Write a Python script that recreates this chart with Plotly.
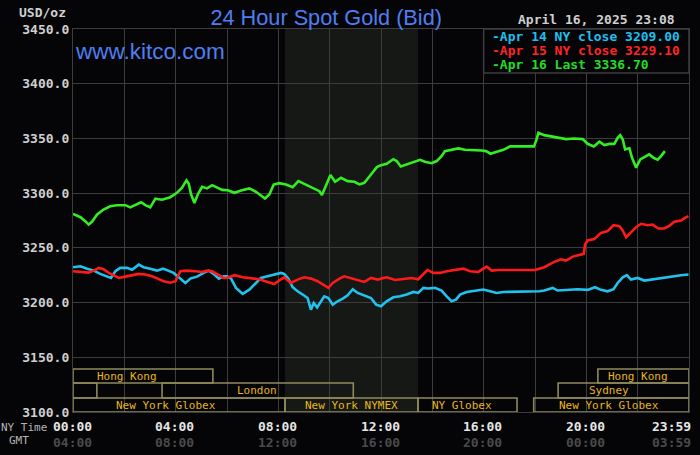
import plotly.graph_objects as go

# ---------------- data (hours in NY time, price USD/oz) ----------------
apr14_hours = [0, 0.29, 0.55, 0.81, 1.06, 1.32, 1.48, 1.65, 1.84, 2.1, 2.3, 2.56, 2.75, 3.01, 3.27, 3.51,
               3.73, 3.92, 4.12, 4.38, 4.57, 4.83, 5.09, 5.29, 5.48, 5.68, 5.87, 6.0, 6.16, 6.35, 6.61,
               6.87, 7.13, 7.32, 7.58, 7.84, 8.1, 8.23, 8.39, 8.56, 8.75, 8.99, 9.14, 9.27, 9.38, 9.51,
               9.66, 9.79, 9.95, 10.12, 10.31, 10.51, 10.7, 10.9, 11.09, 11.35, 11.61, 11.81, 12.0, 12.22,
               12.48, 12.74, 13.0, 13.26, 13.45, 13.65, 13.84, 14.1, 14.36, 14.56, 14.75, 14.92, 15.08,
               15.34, 15.66, 15.99, 16.25, 16.51, 16.77, 17.16, 17.68, 18.17, 18.36, 18.69, 18.88, 19.27,
               19.66, 20.05, 20.34, 20.57, 20.83, 21.06, 21.22, 21.42, 21.58, 21.74, 22.0, 22.26, 22.58,
               22.91, 23.17, 23.43, 23.69, 23.98]
apr14_values = [3232.3, 3233.2, 3231.0, 3229.2, 3226.2, 3224.0, 3222.5, 3228.6, 3231.7, 3231.7, 3230.0,
                3234.7, 3232.3, 3231.0, 3229.2, 3231.0, 3228.6, 3227.1, 3223.1, 3217.9, 3221.9, 3223.7,
                3227.1, 3229.2, 3226.2, 3221.9, 3224.0, 3224.0, 3221.9, 3213.4, 3207.9, 3211.8, 3217.9,
                3222.5, 3224.0, 3225.6, 3227.1, 3226.2, 3221.9, 3214.0, 3210.3, 3206.7, 3204.2, 3193.5,
                3199.6, 3195.6, 3201.2, 3205.7, 3204.2, 3198.1, 3201.2, 3203.6, 3206.7, 3212.2, 3208.8,
                3206.7, 3204.2, 3198.1, 3196.6, 3201.2, 3204.8, 3205.7, 3207.3, 3209.7, 3208.8, 3213.4,
                3212.8, 3213.4, 3211.0, 3205.7, 3201.2, 3202.7, 3207.3, 3209.7, 3211.0, 3211.9, 3210.3,
                3208.8, 3209.7, 3209.7, 3209.7, 3210.3, 3211.0, 3213.4, 3211.0, 3211.6, 3212.2, 3211.6,
                3214.0, 3211.6, 3210.3, 3212.2, 3217.9, 3223.1, 3225.0, 3221.0, 3222.5, 3220.1, 3221.3,
                3222.5, 3223.7, 3224.0, 3225.0, 3225.6]

apr15_hours = [0, 0.29, 0.61, 0.81, 1.0, 1.19, 1.39, 1.58, 1.78, 2.04, 2.3, 2.56, 2.82, 3.08, 3.3, 3.53,
               3.79, 3.99, 4.18, 4.44, 4.77, 5.03, 5.22, 5.42, 5.68, 5.87, 6.0, 6.29, 6.61, 6.94, 7.26,
               7.58, 7.84, 8.08, 8.23, 8.49, 8.75, 9.01, 9.27, 9.53, 9.79, 9.95, 10.12, 10.38, 10.57,
               10.83, 11.09, 11.35, 11.61, 11.87, 12.1, 12.22, 12.55, 12.87, 13.19, 13.45, 13.65, 13.81,
               14.04, 14.3, 14.56, 14.88, 15.21, 15.47, 15.79, 15.99, 16.12, 16.31, 16.57, 16.9, 17.42,
               18.0, 18.36, 18.75, 19.01, 19.21, 19.47, 19.73, 19.9, 19.95, 20.05, 20.31, 20.57, 20.83,
               21.06, 21.29, 21.42, 21.55, 21.74, 21.94, 22.13, 22.39, 22.58, 22.81, 23.04, 23.23, 23.43,
               23.69, 23.84, 23.98]
apr15_values = [3228.6, 3228.0, 3227.4, 3229.2, 3231.7, 3230.4, 3227.1, 3225.0, 3222.5, 3223.7, 3225.0,
                3226.2, 3225.6, 3224.0, 3221.9, 3219.5, 3218.2, 3219.5, 3228.6, 3229.2, 3228.6, 3228.0,
                3229.2, 3228.6, 3225.0, 3222.5, 3222.5, 3225.0, 3223.1, 3221.9, 3221.3, 3218.9, 3217.0,
                3221.0, 3223.1, 3217.9, 3221.0, 3223.1, 3221.9, 3219.5, 3215.8, 3213.4, 3217.9, 3221.9,
                3224.0, 3222.5, 3221.0, 3218.9, 3222.5, 3221.0, 3222.5, 3223.1, 3220.7, 3221.9, 3222.5,
                3221.3, 3226.2, 3229.8, 3227.1, 3227.1, 3228.6, 3229.8, 3231.0, 3228.6, 3228.0, 3231.0,
                3232.9, 3229.2, 3229.8, 3229.8, 3229.8, 3229.8, 3232.3, 3237.2, 3239.6, 3238.4, 3242.0,
                3243.9, 3244.5, 3253.0, 3256.7, 3258.0, 3263.7, 3265.3, 3270.7, 3269.8, 3265.8, 3259.7,
                3264.6, 3268.9, 3272.0, 3270.7, 3271.3, 3267.7, 3267.7, 3270.1, 3273.8, 3275.0, 3277.4,
                3279.0]

apr16_hours = [0, 0.29, 0.48, 0.61, 0.74, 0.94, 1.19, 1.45, 1.71, 2.04, 2.23, 2.49, 2.65, 2.82, 3.01,
               3.21, 3.47, 3.79, 4.05, 4.25, 4.42, 4.51, 4.6, 4.73, 4.86, 5.03, 5.22, 5.42, 5.61, 5.81,
               6.03, 6.29, 6.55, 6.87, 7.13, 7.32, 7.48, 7.65, 7.82, 8.04, 8.3, 8.56, 8.78, 9.01, 9.21,
               9.4, 9.6, 9.7, 9.86, 10.03, 10.21, 10.44, 10.7, 10.96, 11.16, 11.35, 11.61, 11.84, 12.0,
               12.22, 12.48, 12.61, 12.77, 13.0, 13.26, 13.52, 13.71, 13.97, 14.17, 14.36, 14.49, 14.75,
               15.01, 15.27, 15.6, 15.92, 16.09, 16.27, 16.51, 16.77, 17.03, 17.42, 17.96, 18.06, 18.13,
               18.36, 18.62, 18.88, 19.21, 19.53, 19.86, 20.05, 20.29, 20.51, 20.7, 20.9, 21.09, 21.22,
               21.32, 21.42, 21.51, 21.68, 21.78, 21.94, 22.1, 22.26, 22.45, 22.62, 22.78, 22.91, 23.06]
apr16_values = [3281.1, 3278.0, 3274.4, 3271.3, 3273.8, 3280.5, 3285.0, 3288.0, 3289.0, 3289.0, 3287.0,
                3289.6, 3291.7, 3289.0, 3287.0, 3295.0, 3294.0, 3296.3, 3300.3, 3305.0, 3311.6, 3308.5,
                3298.8, 3291.0, 3298.8, 3305.8, 3304.3, 3307.3, 3305.0, 3303.0, 3302.7, 3300.3, 3302.4,
                3304.3, 3301.2, 3298.2, 3295.1, 3298.8, 3307.9, 3309.1, 3307.9, 3305.5, 3311.0, 3308.5,
                3306.4, 3304.3, 3301.8, 3298.2, 3307.9, 3316.5, 3310.4, 3314.0, 3311.0, 3310.4, 3308.0,
                3309.4, 3317.0, 3323.8, 3325.6, 3326.8, 3331.0, 3329.3, 3324.4, 3326.2, 3328.0, 3330.5,
                3328.7, 3327.4, 3329.3, 3333.8, 3338.4, 3339.6, 3340.9, 3339.6, 3339.6, 3339.0, 3338.4,
                3336.0, 3337.8, 3339.6, 3342.7, 3342.7, 3342.7, 3349.0, 3355.2, 3353.0, 3351.8, 3350.6,
                3349.4, 3350.0, 3349.4, 3345.1, 3342.7, 3347.0, 3344.0, 3345.0, 3345.0, 3350.6, 3353.0,
                3349.0, 3340.0, 3341.0, 3332.3, 3323.2, 3330.8, 3333.0, 3335.4, 3332.3, 3330.5, 3333.8,
                3338.4]

series_labels = ["-Apr 14 NY close 3209.00", "-Apr 15 NY close 3229.10", "-Apr 16 Last 3336.70"]
series_colors = ["#22c2ee", "#ff1a1a", "#33ee22"]
legend_text_colors = ["#1fbfee", "#ff2424", "#22dd22"]

y_ticks = [3100, 3150, 3200, 3250, 3300, 3350, 3400, 3450]
x_grid = [0, 2, 4, 6, 8, 10, 12, 14, 16, 18, 20, 22, 24]
x_label_pos = [0, 4, 8, 12, 16, 20, 24]
ny_time_labels = ["00:00", "04:00", "08:00", "12:00", "16:00", "20:00", "23:59"]
gmt_labels = ["04:00", "08:00", "12:00", "16:00", "20:00", "00:00", "03:59"]

nymex_span = [8.26, 13.44]

# session rows: (row index from top, start hour, end hour, label, label centre hour)
session_rows = [0, 0, 1, 1, 1, 2, 2, 2, 2]
session_start = [0, 20.45, 0, 3.47, 18.9, 0, 8.26, 13.44, 17.95]
session_end = [5.45, 24, 0.93, 10.92, 24, 8.26, 13.44, 17.3, 24]
session_names = ["Hong Kong", "Hong Kong", "", "London", "Sydney", "New York Globex",
                 "New York NYMEX", "NY Globex", "New York Globex"]
session_label_x = [2.1, 22.0, 0, 7.17, 20.9, 3.64, 10.85, 15.15, 20.9]
row_bounds = [(3126.5, 3139.3), (3112.8, 3126.5), (3100.0, 3112.8)]

# ---------------- figure ----------------
BG = "#050507"
GRID = "#3d3d3d"
MONO = "DejaVu Sans Mono"
BLUE = "#4f7ef2"

fig = go.Figure()

for xs, ys, col, lab in zip([apr14_hours, apr15_hours, apr16_hours],
                            [apr14_values, apr15_values, apr16_values],
                            series_colors, series_labels):
    fig.add_trace(go.Scatter(x=xs, y=ys, mode="lines", line=dict(color=col, width=2.6),
                             name=lab, showlegend=False, hoverinfo="skip"))

shapes = []
# NYMEX shading
shapes.append(dict(type="rect", xref="x", yref="y", x0=nymex_span[0], x1=nymex_span[1],
                   y0=3100, y1=3450, fillcolor="#161816", line=dict(width=0), layer="below"))
# session boxes
for r, s, e in zip(session_rows, session_start, session_end):
    y0, y1 = row_bounds[r]
    shapes.append(dict(type="rect", xref="x", yref="y", x0=s, x1=e, y0=y0, y1=y1,
                       line=dict(color="#8e8a5c", width=1.6), fillcolor="rgba(0,0,0,0)", layer="above"))
# legend box
shapes.append(dict(type="rect", xref="x", yref="y", x0=16, x1=24, y0=3409.8, y1=3450,
                   fillcolor=BG, line=dict(color=GRID, width=1.5), layer="above"))
fig.update_layout(shapes=shapes)

ann = []
# session labels
for r, name, lx in zip(session_rows, session_names, session_label_x):
    if not name:
        continue
    y0, y1 = row_bounds[r]
    ann.append(dict(x=lx, y=(y0 + y1) / 2, xref="x", yref="y", text=name, showarrow=False,
                    font=dict(family=MONO, size=11, color="#e8b61c"), xanchor="center", yanchor="middle"))
# legend entries
legend_y = [3442.7, 3430.8, 3418.0]
for lab, col, ly in zip(series_labels, legend_text_colors, legend_y):
    ann.append(dict(x=16, y=ly, xref="x", yref="y", text=lab, showarrow=False, xanchor="left",
                    yanchor="middle", xshift=6,
                    font=dict(family=MONO, size=13, color=col, weight="bold")))
# x tick labels (NY time and GMT)
for xp, ny, gm in zip(x_label_pos, ny_time_labels, gmt_labels):
    last = xp == x_label_pos[-1]
    ann.append(dict(x=xp, y=0, xref="x", yref="paper", yanchor="top", yshift=-5,
                    xanchor="right" if last else "center", xshift=4 if last else -1,
                    text=ny, showarrow=False, font=dict(family=MONO, size=13, color="#e6e6e6", weight="bold")))
    ann.append(dict(x=xp, y=0, xref="x", yref="paper", yanchor="top", yshift=-21,
                    xanchor="right" if last else "center", xshift=4 if last else -1,
                    text=gm, showarrow=False, font=dict(family=MONO, size=13, color="#4a4a4a", weight="bold")))
ann.append(dict(x=0, y=0, xref="paper", yref="paper", xanchor="right", yanchor="top", xshift=-24,
                yshift=-7, text="NY Time", showarrow=False, font=dict(family=MONO, size=11, color="#b4b4b4")))
ann.append(dict(x=0, y=0, xref="paper", yref="paper", xanchor="right", yanchor="top", xshift=-42,
                yshift=-20, text="GMT", showarrow=False, font=dict(family=MONO, size=11, color="#b4b4b4")))
# units, date, site
ann.append(dict(x=0, y=1, xref="paper", yref="paper", xanchor="right", yanchor="bottom", xshift=-5,
                yshift=7, text="USD/oz", showarrow=False,
                font=dict(family=MONO, size=13, color="#cfcfcf", weight="bold")))
ann.append(dict(x=1, y=1, xref="paper", yref="paper", xanchor="right", yanchor="bottom", xshift=-12,
                yshift=0, text="April 16, 2025 23:08", showarrow=False,
                font=dict(family=MONO, size=13, color="#cfcfcf", weight="bold")))
ann.append(dict(x=0, y=3429, xref="paper", yref="y", xanchor="left", yanchor="middle", xshift=0,
                text="www.kitco.com", showarrow=False,
                font=dict(family="Liberation Sans", size=22.5, color=BLUE)))
fig.update_layout(annotations=ann)

fig.update_layout(
    width=700, height=455,
    margin=dict(l=73, r=11, t=29, b=43),
    paper_bgcolor=BG, plot_bgcolor=BG,
    title=dict(text="24 Hour Spot Gold (Bid)", x=0.466, xanchor="center", y=0.962, yanchor="middle",
               xref="container", yref="container",
               font=dict(family="Liberation Sans", size=21.7, color=BLUE)),
    xaxis=dict(range=[0, 24], tickvals=x_grid, showticklabels=False, showgrid=True,
               gridcolor=GRID, gridwidth=1.3, zeroline=False, showline=True, linecolor=GRID,
               linewidth=1.3, mirror=True, ticks=""),
    yaxis=dict(range=[3100, 3450], tickvals=y_ticks, tickformat=".1f", showgrid=True,
               gridcolor=GRID, gridwidth=1.3, zeroline=False, showline=True, linecolor=GRID,
               linewidth=1.3, mirror=True, ticks="",
               tickfont=dict(family=MONO, size=13, color="#cfcfcf", weight="bold")),
    showlegend=False,
)

fig.write_html("out.html")
